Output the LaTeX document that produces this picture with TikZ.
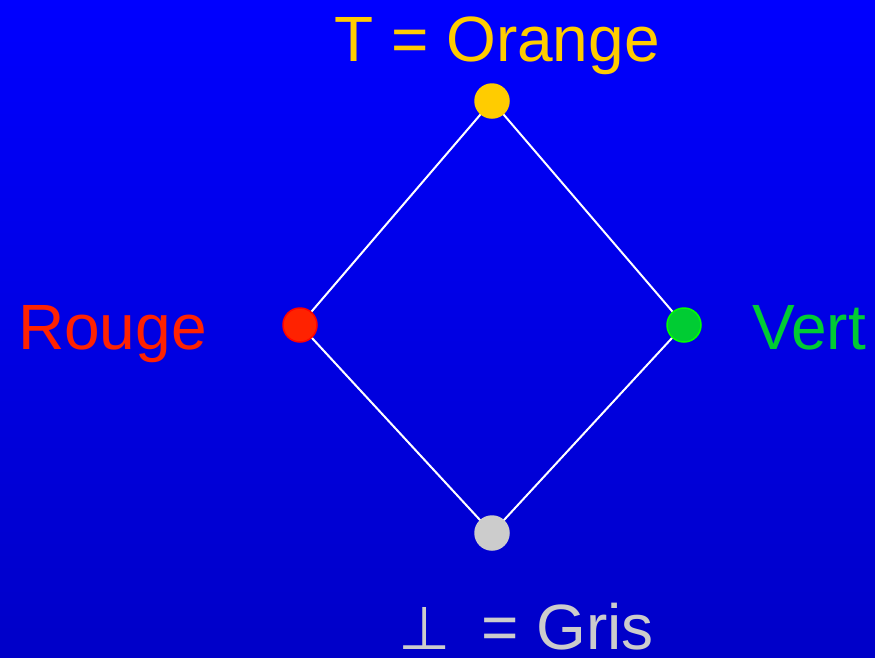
\documentclass[tikz,border=0pt]{standalone}
\usepackage{fontspec}
\setmainfont{Liberation Sans}
\newfontfamily\symfont{DejaVu Sans}
\definecolor{bgtop}{RGB}{0,0,255}
\definecolor{bgbot}{RGB}{0,0,200}
\definecolor{cyellow}{RGB}{255,204,0}
\definecolor{cred}{RGB}{255,34,0}
\definecolor{credb}{RGB}{255,0,0}
\definecolor{cgreen}{RGB}{0,204,51}
\definecolor{cgreenb}{RGB}{0,255,0}
\definecolor{cgray}{RGB}{204,204,204}
\begin{document}
\begin{tikzpicture}[x=1pt,y=-1pt,
  dot/.style={circle,inner sep=0pt,minimum size=34pt,line width=1.5pt},
  lab/.style={inner sep=0pt,font=\fontsize{64}{70}\selectfont},
  edge/.style={draw=white,line width=2pt}]
\shade[top color=bgtop,bottom color=bgbot] (0,0) rectangle (875,657);
\useasboundingbox (0,0) rectangle (875,657);
\coordinate (ctop) at (492,101);
\coordinate (cleft) at (300,325);
\coordinate (cright) at (684,325);
\coordinate (cbot) at (492,533);
\draw[edge] (ctop) -- (cleft) -- (cbot) -- (cright) -- (ctop);
\node[dot,fill=cyellow,draw=cyellow] (top) at (ctop) {};
\node[dot,fill=cred,draw=credb] (left) at (cleft) {};
\node[dot,fill=cgreen,draw=cgreenb] (right) at (cright) {};
\node[dot,fill=cgray,draw=cgray] (bot) at (cbot) {};
\node[lab,text=cyellow,anchor=base] (ltop) at (497,61) {T = Orange};
\node[lab,text=cred,anchor=base west] (lleft) at (18,349) {Rouge};
\node[lab,text=cgray,anchor=base west,font=\symfont\fontsize{60}{70}\selectfont] (lbotsym) at (398,649) {⊥};
\node[lab,text=cgreen,anchor=base west] (lright) at (752,349) {Vert};
\node[lab,text=cgray,anchor=base west] (lbot) at (481,649) {= Gris};
\end{tikzpicture}
\end{document}
